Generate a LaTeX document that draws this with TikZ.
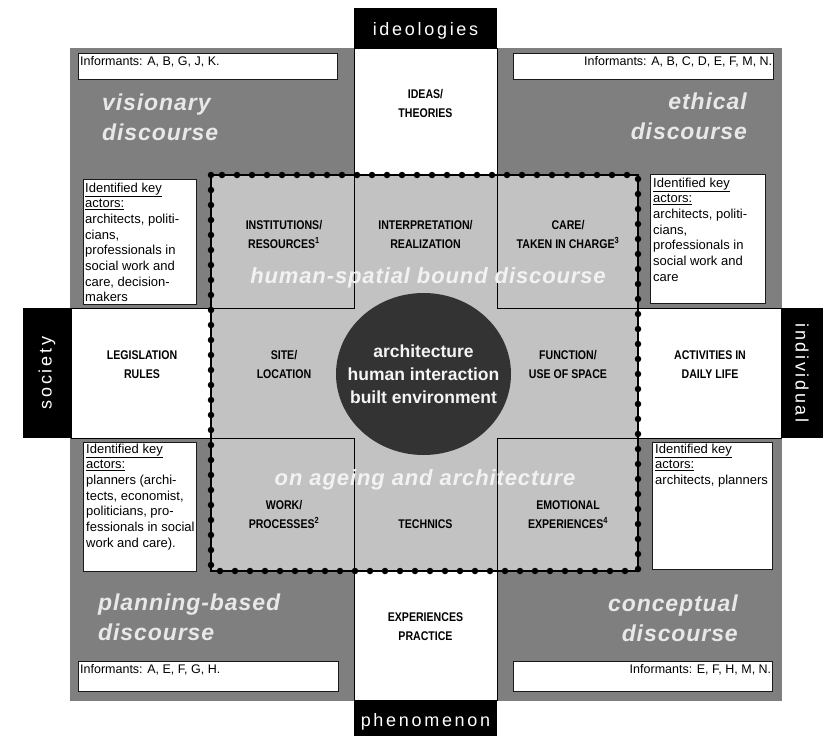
\documentclass[tikz,border=0pt]{standalone}
\usepackage{fontspec}
\setmainfont{Liberation Sans}
\newfontfamily\capsfont[FakeStretch=0.84]{Liberation Sans}
\newfontfamily\polefont[LetterSpace=15]{Liberation Sans}
\newfontfamily\discfont[LetterSpace=4]{Liberation Sans}
\definecolor{outergrey}{HTML}{7F7F7F}
\definecolor{innergrey}{HTML}{C2C2C2}
\definecolor{coregrey}{HTML}{333333}
\definecolor{disctext}{HTML}{E8E8E8}
\definecolor{boxline}{HTML}{1A1A1A}
\begin{document}
\begin{tikzpicture}[x=1pt, y=-1pt, line join=miter,
	caps/.style={font=\capsfont\bfseries\fontsize{12.6}{18.5}\selectfont, align=center, anchor=base, inner sep=0pt},
	disc/.style={font=\discfont\bfseries\itshape\fontsize{23}{29.5}\selectfont, text=disctext, inner sep=0pt},
	pole/.style={font=\polefont\fontsize{18}{18}\selectfont, text=white, inner sep=0pt},
	note/.style={font=\fontsize{12.5}{15.7}\selectfont, align=left, inner sep=0pt, anchor=base west},
	actors/.style={note, font=\fontsize{13}{15.7}\selectfont},
	notebox/.style={draw=boxline, line width=1.4pt, fill=white, anchor=north west, inner sep=0pt}]
	\useasboundingbox (0,0) rectangle (823,736);
	\def\xl{354} % left edge of the column
	\def\xr{497} % right edge of the column
	\def\yt{308} % top edge of the row
	\def\yb{438} % bottom edge of the row
	% grey field and white cross
	\fill[outergrey] (70,48) rectangle (782,701);
	\fill[white] (\xl,48) rectangle (\xr,700);
	\fill[white] (71,\yt) rectangle (781,\yb);
	\fill[innergrey] (211,175) rectangle (638,571);
	\draw[line width=1pt] (\xl,48) -- (\xr,48) -- (\xr,\yt) -- (781,\yt) -- (781,\yb) -- (\xr,\yb)
		-- (\xr,700) -- (\xl,700) -- (\xl,\yb) -- (71,\yb) -- (71,\yt) -- (\xl,\yt) -- cycle;
	\draw[line width=2pt] (211,175) rectangle (638,571);
	\draw[line width=6.5pt, line cap=round, dash pattern=on 0pt off 15pt] (211,175) rectangle (638,571);
	\fill[coregrey] (423.5,374) ellipse [x radius=87.5, y radius=81];
	% poles
	\fill (\xl,8) rectangle (\xr,48);
	\fill (\xl,700) rectangle (\xr,736);
	\fill (23,\yt) rectangle (71,\yb);
	\fill (781,\yt) rectangle (823,\yb);
	\node[pole, anchor=base] (ideol) at (425.5,35) {ideologies};
	\node[pole, anchor=base] (phenom) at (425.5,726) {phenomenon};
	\node[pole, rotate=90] (soc) at (47,373) {society};
	\node[pole, rotate=-90] (indiv) at (802,373) {individual};
	% informant boxes
	\node[notebox, minimum width=259pt, minimum height=26pt] (infVis) at (78,53) {};
	\node[notebox, minimum width=260pt, minimum height=26pt] (infEth) at (513,53) {};
	\node[notebox, minimum width=260pt, minimum height=30pt] (infPla) at (78,661) {};
	\node[notebox, minimum width=259pt, minimum height=30pt] (infCon) at (513,661) {};
	\node[note] at ([shift={(2,12)}]infVis.north west) {Informants: A, B, G, J, K.};
	\node[note, anchor=base east] at ([shift={(-2,12)}]infEth.north east) {Informants: A, B, C, D, E, F, M, N.};
	\node[note] at ([shift={(2,12)}]infPla.north west) {Informants: A, E, F, G, H.};
	\node[note, anchor=base east] at ([shift={(-2,12)}]infCon.north east) {Informants: E, F, H, M, N.};
	% key actor boxes (text placed by its last baseline)
	\node[notebox, minimum width=113pt, minimum height=125pt] (keyVis) at (83,179) {};
	\node[notebox, minimum width=115pt, minimum height=129pt] (keyEth) at (650,174) {};
	\node[notebox, minimum width=113pt, minimum height=129pt] (keyPla) at (83,442) {};
	\node[notebox, minimum width=120pt, minimum height=127pt] (keyCon) at (652,442) {};
	\node[actors] at ([shift={(2,122.9)}]keyVis.north west) {\underline{Identified key}\\\underline{actors:}\\architects, politi-\\cians,\\professionals in\\social work and\\care, decision-\\makers};
	\node[actors] at ([shift={(3,107.2)}]keyEth.north west) {\underline{Identified key}\\\underline{actors:}\\architects, politi-\\cians,\\professionals in\\social work and\\care};
	\node[actors] at ([shift={(3,105.2)}]keyPla.north west) {\underline{Identified key}\\\underline{actors:}\\planners (archi-\\tects, economist,\\politicians, pro-\\fessionals in social\\work and care).};
	\node[actors] at ([shift={(3,42.4)}]keyCon.north west) {\underline{Identified key}\\\underline{actors:}\\architects, planners};
	% fields
	\node[caps] (ideas) at (425.5,117) {IDEAS/\\THEORIES};
	\node[caps] (inst) at (284,248) {INSTITUTIONS/\\RESOURCES\textsuperscript{1}};
	\node[caps] (interp) at (425.5,248) {INTERPRETATION/\\REALIZATION};
	\node[caps] (care) at (568,248) {CARE/\\TAKEN IN CHARGE\textsuperscript{3}};
	\node[caps] (legis) at (142,378) {LEGISLATION\\RULES};
	\node[caps] (site) at (284,378) {SITE/\\LOCATION};
	\node[caps] (func) at (568,378) {FUNCTION/\\USE OF SPACE};
	\node[caps] (activ) at (710,378) {ACTIVITIES IN\\DAILY LIFE};
	\node[caps] (work) at (284,528) {WORK/\\PROCESSES\textsuperscript{2}};
	\node[caps] (techn) at (425.5,528) {TECHNICS};
	\node[caps] (emot) at (568,528) {EMOTIONAL\\EXPERIENCES\textsuperscript{4}};
	\node[caps] (exper) at (425.5,640) {EXPERIENCES\\PRACTICE};
	\node[font=\bfseries\fontsize{17.5}{23}\selectfont, text=white!96!black, align=center, anchor=base, inner sep=0pt] (core) at (423.5,403) {architecture\\human interaction\\built environment};
	% discourses
	\node[disc, anchor=base west, align=left] (visDisc) at (102,140) {visionary\\discourse};
	\node[disc, anchor=base east, align=right] (ethDisc) at (747,139) {ethical\\discourse};
	\node[disc, anchor=base west, align=left] (plaDisc) at (98,640) {planning-based\\discourse};
	\node[disc, anchor=base east, align=right] (conDisc) at (738,641) {conceptual\\discourse};
	\node[disc, font=\discfont\bfseries\itshape\fontsize{22}{26}\selectfont, text=white!95!black, anchor=base] (humDisc) at (428,283) {human-spatial bound discourse};
	\node[disc, font=\discfont\bfseries\itshape\fontsize{22}{26}\selectfont, text=white!95!black, anchor=base] (ageDisc) at (425,485) {on ageing and architecture};
\end{tikzpicture}
\end{document}
